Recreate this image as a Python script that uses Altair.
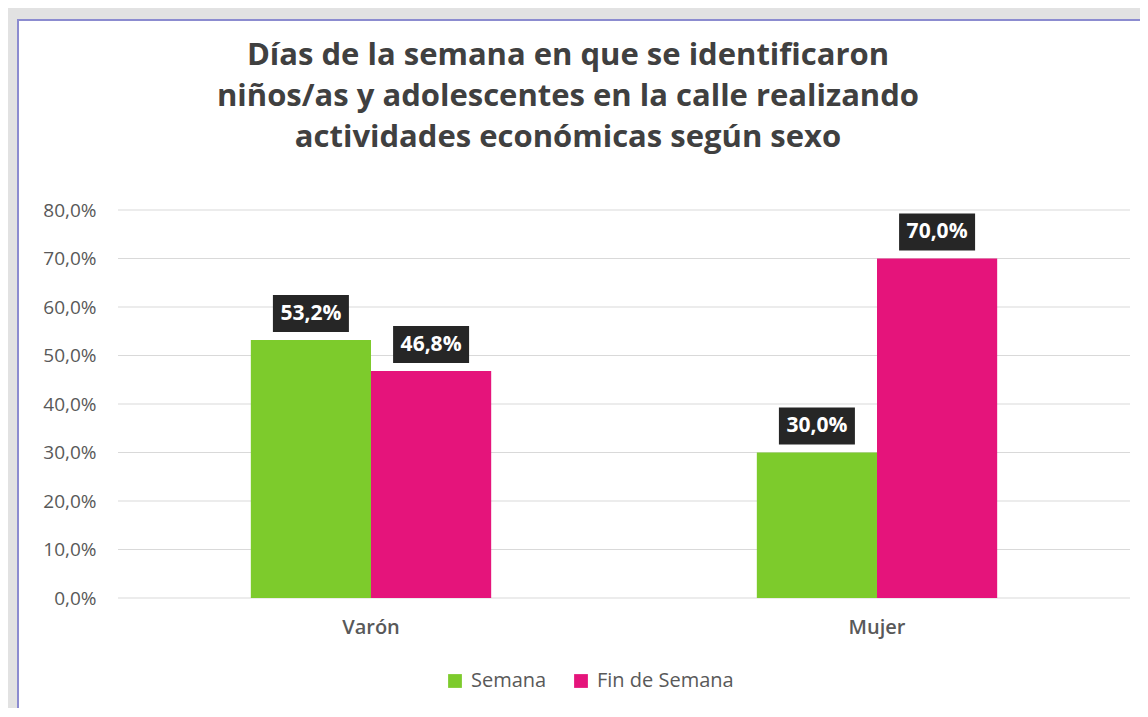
import altair as alt
import pandas as pd

categorias = ["Varón", "Mujer"]
series = ["Semana", "Fin de Semana"]
semana = [53.2, 30.0]
fin_semana = [46.8, 70.0]
ticks_y = [0, 10, 20, 30, 40, 50, 60, 70, 80]
colores = ["#7DCB2C", "#E5147B"]

rows = []
for i, c in enumerate(categorias):
    rows.append({"sexo": c, "dia": series[0], "valor": semana[i]})
    rows.append({"sexo": c, "dia": series[1], "valor": fin_semana[i]})
df = pd.DataFrame(rows)

FONT = "Open Sans"
W, H = 1012, 388

xscale = alt.Scale(domain=categorias, paddingInner=0.525, paddingOuter=0.2625)
yscale = alt.Scale(domain=[0, 80], nice=False)
oscale = alt.Scale(domain=series, paddingInner=0, paddingOuter=0)

x_axis = alt.Axis(title=None, labelAngle=0, ticks=False, domain=False, grid=False, zindex=1,
                  labelFont=FONT, labelFontSize=20, labelFontWeight=600,
                  labelColor="#595959", labelPadding=19)
y_axis = alt.Axis(title=None, values=ticks_y, ticks=False, domain=False, grid=False, zindex=1,
                  labelFont=FONT, labelFontSize=19, labelColor="#595959", labelPadding=22,
                  labelExpr="replace(format(datum.value, '.1f'), '.', ',') + '%'")

x_enc = alt.X("sexo:N", scale=xscale, sort=categorias, axis=x_axis)
o_enc = alt.XOffset("dia:N", scale=oscale, sort=series)

frame = alt.Chart(pd.DataFrame({"k": [0]})).mark_rect(
    fill="white", stroke="#8C8CD0", strokeWidth=2
).encode(x=alt.value(-100), x2=alt.value(1060), y=alt.value(-190), y2=alt.value(650))

grid = alt.Chart(pd.DataFrame({"t": ticks_y})).mark_rule(
    color="#D9D9D9", strokeWidth=1
).encode(y=alt.Y("t:Q", scale=yscale, axis=y_axis))

bars = alt.Chart(df).mark_bar().encode(
    x=x_enc,
    xOffset=o_enc,
    y=alt.Y("valor:Q", scale=yscale, axis=y_axis),
    color=alt.Color("dia:N", scale=alt.Scale(domain=series, range=colores), sort=series,
                    legend=alt.Legend(title=None, orient="none", legendX=327, legendY=461,
                                      direction="horizontal", symbolType="square",
                                      symbolSize=190, symbolStrokeWidth=0,
                                      labelFont=FONT, labelFontSize=20, labelColor="#595959",
                                      columnPadding=24, labelOffset=6)),
)

boxes = alt.Chart(df).transform_calculate(
    lo="datum.valor + 1.65", hi="datum.valor + 9.3"
).mark_bar(width=76, color="#262626").encode(
    x=x_enc, xOffset=o_enc,
    y=alt.Y("lo:Q", scale=yscale, axis=y_axis), y2="hi:Q",
)

labels = alt.Chart(df).transform_calculate(
    mid="datum.valor + 5.45",
    lbl="replace(format(datum.valor, '.1f'), '.', ',') + '%'",
).mark_text(color="white", font=FONT, fontSize=21, fontWeight="bold", baseline="middle").encode(
    x=x_enc, xOffset=o_enc,
    y=alt.Y("mid:Q", scale=yscale, axis=y_axis),
    text="lbl:N",
)

chart = alt.layer(frame, grid, bars, boxes, labels).properties(
    width=W, height=H,
    autosize=alt.AutoSizeParams(type="none"),
    padding={"left": 110, "top": 202, "right": 10, "bottom": 110},
    background="#E2E2E2",
    title=alt.Title(
        ["Días de la semana en que se identificaron",
         "niños/as y adolescentes en la calle realizando",
         "actividades económicas según sexo"],
        font=FONT, fontSize=31, fontWeight="bold", color="#404040",
        lineHeight=41, anchor="middle", frame="group", dx=-56, offset=0, dy=135,
    ),
).configure_view(stroke=None)

chart.save("out.html", embed_options={"renderer": "svg", "actions": False})
